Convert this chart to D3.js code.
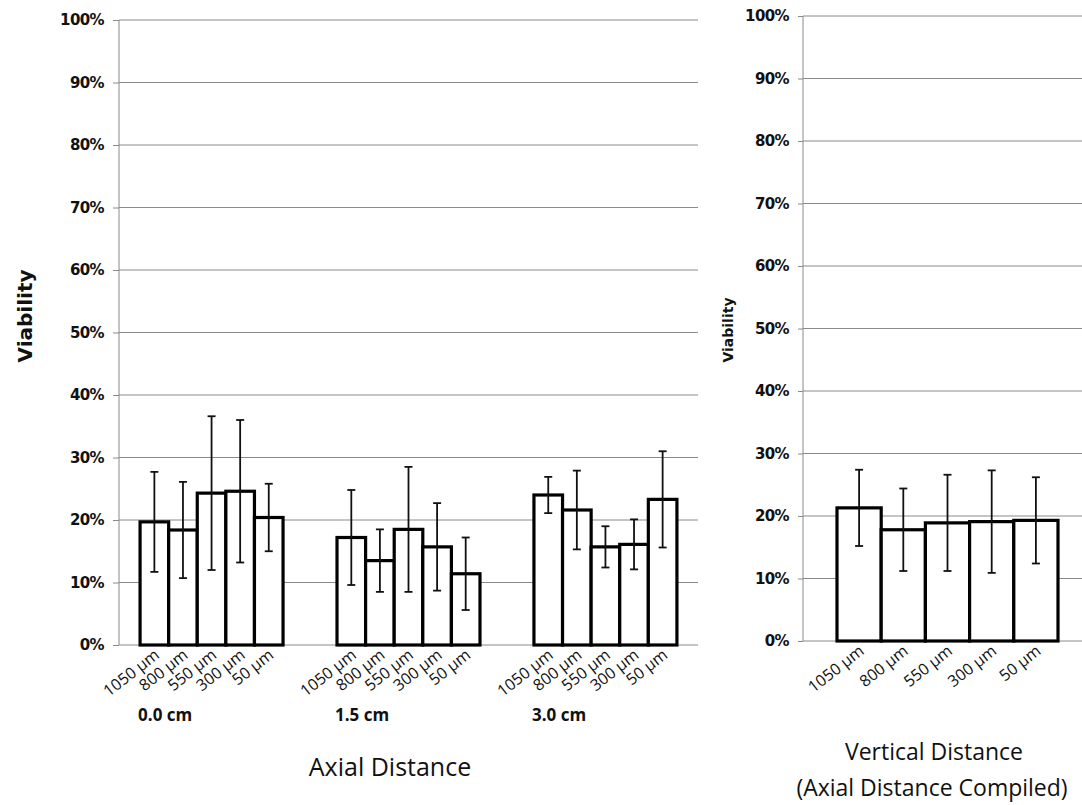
<!DOCTYPE html>
<html>
<head>
<meta charset="utf-8">
<script src="https://cdn.jsdelivr.net/npm/d3@7"></script>
<style>
  body { margin: 0; background: #fff; }
  svg { display: block; }
</style>
</head>
<body>
<div id="vis"></div>
<script>
// ── DATA ─────────────────────────────────────────────────────────────
const categories = ["1050 µm", "800 µm", "550 µm", "300 µm", "50 µm"];
const groups     = ["0.0 cm", "1.5 cm", "3.0 cm"];
const yTicks     = [0, 0.1, 0.2, 0.3, 0.4, 0.5, 0.6, 0.7, 0.8, 0.9, 1.0];

// viability per axial distance (rows = groups, cols = categories)
const axialMean = [
  [0.197, 0.184, 0.243, 0.246, 0.204],
  [0.172, 0.135, 0.185, 0.157, 0.114],
  [0.240, 0.216, 0.157, 0.161, 0.233]
];
const axialErr = [
  [0.080, 0.077, 0.123, 0.114, 0.054],
  [0.076, 0.050, 0.100, 0.070, 0.058],
  [0.029, 0.063, 0.033, 0.040, 0.077]
];

// compiled over axial distance
const compiledMean = [0.213, 0.178, 0.189, 0.191, 0.193];
const compiledErr  = [0.061, 0.066, 0.077, 0.082, 0.069];

// ── CONFIG ───────────────────────────────────────────────────────────
const width  = 1082;
const height = 805;
const gridColor = "#8a8a8a";
const tickFont  = "bold 15px 'DejaVu Sans'";
const catFont   = "16px 'Open Sans'";

const svg = d3.select("#vis").append("svg")
    .attr("width", width)
    .attr("height", height);

// draws one excel-style panel
function panel(opts) {
  const { left, right, top, bottom, rows } = opts;
  const g = svg.append("g");

  const y = d3.scaleLinear([0, 1], [bottom, top]);

  // gridlines
  g.append("g").selectAll("line")
    .data(yTicks.slice(1))
    .join("line")
      .attr("x1", left).attr("x2", right)
      .attr("y1", d => y(d)).attr("y2", d => y(d))
      .attr("stroke", gridColor).attr("stroke-width", 1);

  // y axis
  const yAxis = d3.axisLeft(y)
      .tickValues(yTicks)
      .tickFormat(d3.format(".0%"))
      .tickSize(opts.tick)
      .tickPadding(opts.pad);
  g.append("g")
      .attr("transform", `translate(${left},0)`)
      .call(yAxis)
      .call(a => a.select(".domain").remove())
      .call(a => a.selectAll(".tick line").attr("stroke", gridColor))
      .call(a => a.selectAll(".tick text")
        .style("font", tickFont)
        .style("letter-spacing", "-0.6px")
        .attr("fill", "#111"));
  g.append("line")
      .attr("x1", left).attr("x2", left)
      .attr("y1", top).attr("y2", bottom)
      .attr("stroke", gridColor);
  g.append("line")
      .attr("x1", left).attr("x2", right)
      .attr("y1", bottom).attr("y2", bottom)
      .attr("stroke", gridColor);

  // groups and bars
  const x0 = d3.scaleBand(rows.map(r => r.group), opts.groupRange)
      .paddingInner(opts.padInner)
      .paddingOuter(opts.padOuter);
  const x1 = d3.scaleBand(categories, [0, x0.bandwidth()]).padding(0);

  const grp = g.append("g").selectAll("g")
    .data(rows)
    .join("g")
      .attr("transform", r => `translate(${x0(r.group)},0)`);

  const item = grp.selectAll("g")
    .data(r => r.values)
    .join("g")
      .attr("transform", d => `translate(${x1(d.cat)},0)`);

  item.append("rect")
      .attr("x", 0)
      .attr("y", d => y(d.mean))
      .attr("width", x1.bandwidth())
      .attr("height", d => y(0) - y(d.mean))
      .attr("fill", "#fff")
      .attr("stroke", "#000")
      .attr("stroke-width", 3.2);

  // error bars
  const cx = x1.bandwidth() / 2;
  const eb = item.append("g").attr("stroke", "#111").attr("stroke-width", 1.8);
  eb.append("line")
      .attr("x1", cx).attr("x2", cx)
      .attr("y1", d => y(d.mean + d.err)).attr("y2", d => y(d.mean - d.err));
  eb.append("line")
      .attr("x1", cx - 4).attr("x2", cx + 4)
      .attr("y1", d => y(d.mean + d.err)).attr("y2", d => y(d.mean + d.err));
  eb.append("line")
      .attr("x1", cx - 4).attr("x2", cx + 4)
      .attr("y1", d => y(d.mean - d.err)).attr("y2", d => y(d.mean - d.err));

  // rotated category labels
  item.append("text")
      .attr("transform", `translate(${cx + 6},${bottom + 12}) rotate(-38)`)
      .attr("text-anchor", "end")
      .style("font", catFont)
      .attr("fill", "#111")
      .text(d => d.cat);

  // y title
  svg.append("text")
      .attr("transform", `translate(${opts.titleX},${opts.titleY}) rotate(-90)`)
      .attr("text-anchor", "middle")
      .style("font", opts.titleFont)
      .attr("fill", "#111")
      .text("Viability");

  return { x0, grp };
}

// left panel: by axial distance
const leftRows = groups.map((grp, i) => ({
  group: grp,
  values: categories.map((c, j) => ({ cat: c, mean: axialMean[i][j], err: axialErr[i][j] }))
}));

const L = panel({
  left: 119, right: 698, top: 20, bottom: 645,
  tick: 6, pad: 9,
  rows: leftRows,
  groupRange: [119, 698], padInner: 0.274, padOuter: 0.107,
  titleX: 32, titleY: 316, titleFont: "bold 20px 'DejaVu Sans'"
});

// group labels under the left panel
svg.append("g").selectAll("text")
  .data(groups)
  .join("text")
    .attr("x", d => L.x0(d) - 2)
    .attr("y", 721)
    .style("font", "bold 17px 'Open Sans'")
    .attr("fill", "#111")
    .text(d => d);

// right panel: compiled
const rightRows = [{
  group: "all",
  values: categories.map((c, j) => ({ cat: c, mean: compiledMean[j], err: compiledErr[j] }))
}];

panel({
  left: 803, right: 1092, top: 16, bottom: 641,
  tick: 5, pad: 9,
  rows: rightRows,
  groupRange: [837, 1058], padInner: 0, padOuter: 0,
  titleX: 733, titleY: 330, titleFont: "bold 14px 'DejaVu Sans'"
});

// x titles
svg.append("text")
    .attr("x", 390).attr("y", 776)
    .attr("text-anchor", "middle")
    .style("font", "25px 'Open Sans'")
    .attr("fill", "#111")
    .text("Axial Distance");

svg.append("text")
    .attr("x", 934).attr("y", 760)
    .attr("text-anchor", "middle")
    .style("font", "23px 'Open Sans'")
    .attr("fill", "#111")
    .text("Vertical Distance");

svg.append("text")
    .attr("x", 932).attr("y", 796)
    .attr("text-anchor", "middle")
    .style("font", "23px 'Open Sans'")
    .attr("fill", "#111")
    .text("(Axial Distance Compiled)");
</script>
</body>
</html>
